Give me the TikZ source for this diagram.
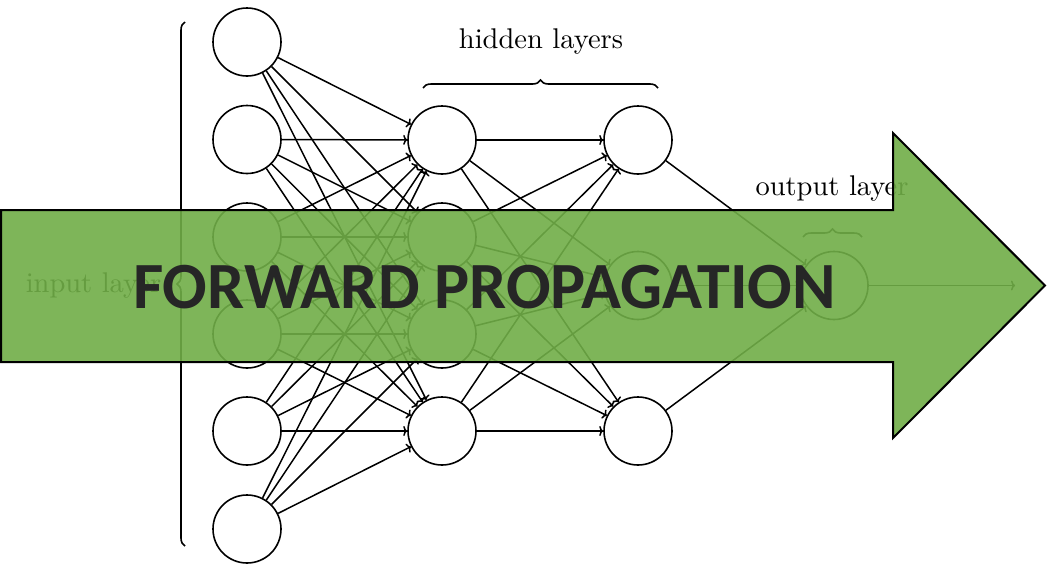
\documentclass[tikz,border=0pt]{standalone}
\usepackage{fontspec}
\newfontfamily\carlito{Carlito}
\usetikzlibrary{arrows.meta,decorations.pathreplacing}
\definecolor{fwdgreen}{HTML}{70AD47}
\definecolor{fwdtext}{HTML}{262626}
\newcommand{\biglbl}[1]{\scalebox{2.85}{\fontsize{10}{12}\selectfont #1}}
\begin{document}
\begin{tikzpicture}[x=1pt,y=-1pt,
  neuron/.style={circle,draw,line width=1.6pt,minimum size=68pt,inner sep=0pt},
  conn/.style={line width=1.5pt,-{To[length=4pt,width=10pt]}},
  lbl/.style={anchor=base,inner sep=0pt},
  brc/.style={decorate,decoration={brace,amplitude=8pt},line width=1.6pt},
  fwd/.style={draw=black,line width=2pt,fill=fwdgreen,fill opacity=0.9},
  bigtxt/.style={font=\carlito\bfseries\fontsize{66}{78}\selectfont,text=fwdtext,anchor=base}
]
\useasboundingbox (0,0) rectangle (1048,573);
% input layer
\foreach \i/\y in {1/42,2/139.5,3/237,4/334,5/431,6/529}
  \node[neuron] (I\i) at (247,\y) {};
% hidden layer 1
\foreach \i/\y in {1/140,2/237,3/334,4/431}
  \node[neuron] (H\i) at (442,\y) {};
% hidden layer 2
\foreach \i/\y in {1/140,2/285.5,3/431}
  \node[neuron] (K\i) at (638,\y) {};
% output
\node[neuron] (O) at (834,285.5) {};
\coordinate (E) at (1015,285.5);
% connections
\foreach \i in {1,...,6}
  \foreach \j in {1,...,4}
    \draw[conn] (I\i) -- (H\j);
\foreach \i in {1,...,4}
  \foreach \j in {1,...,3}
    \draw[conn] (H\i) -- (K\j);
\foreach \i in {1,...,3}
  \draw[conn] (K\i) -- (O);
\draw[conn] (O) -- (E);
% labels and braces
\node[lbl] (lh) at (541,48) {\biglbl{hidden layers}};
\node[lbl] (lo) at (832,195) {\biglbl{output layer}};
\node[lbl] (li) at (93.5,292) {\biglbl{input layer}};
\draw[brc] (423,88) -- (658,88);
\draw[brc] (803,237) -- (862,237);
\draw[brc] (185,546) -- (185,22);
% big arrow
\draw[fwd] (1,210) -- (893,210) -- (893,133) -- (1045,285.5) -- (893,438) -- (893,362) -- (1,362) -- cycle;
\node[bigtxt] (ft) at (484.5,308) {FORWARD PROPAGATION};
\end{tikzpicture}
\end{document}
